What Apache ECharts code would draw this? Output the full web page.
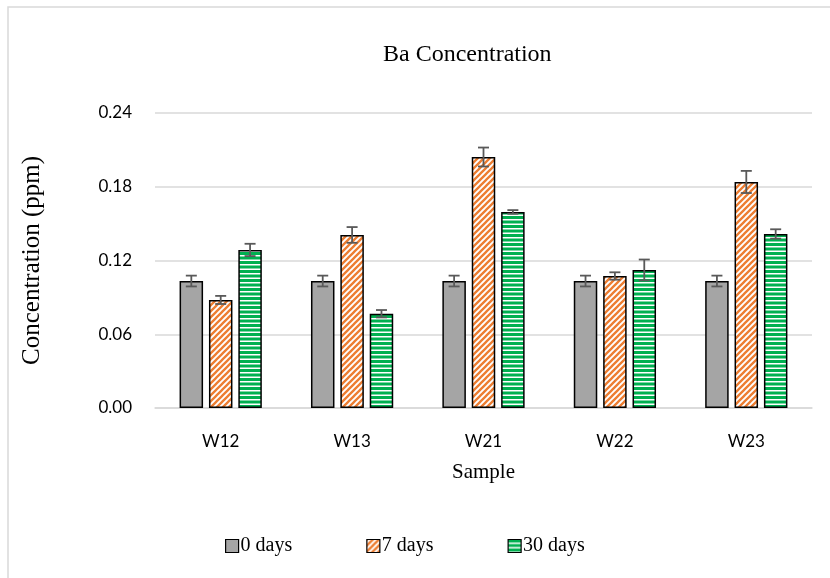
<!DOCTYPE html>
<html>
<head>
<meta charset="utf-8">
<script src="https://cdn.jsdelivr.net/npm/echarts@6/dist/echarts.min.js"></script>
<style>html,body{margin:0;padding:0;background:#fff}#c{width:830px;height:578px}</style>
</head>
<body>
<div id="c"></div>
<script>
const categories = ['W12', 'W13', 'W21', 'W22', 'W23'];
const seriesNames = ['0 days', '7 days', '30 days'];
const day0 = [0.1033, 0.1033, 0.1033, 0.1033, 0.1033];
const day7 = [0.0879, 0.1408, 0.2042, 0.1074, 0.1839];
const day30 = [0.1286, 0.0767, 0.1595, 0.1123, 0.1416];
const err0 = [0.0044, 0.0044, 0.0044, 0.0044, 0.0044];
const err7 = [0.0033, 0.0064, 0.0077, 0.0030, 0.0090];
const err30 = [0.0050, 0.0030, 0.0015, 0.0085, 0.0038];
const yTicks = [0, 0.06, 0.12, 0.18, 0.24];

function diagPattern() {
  const s = 6, c = document.createElement('canvas');
  c.width = s; c.height = s;
  const g = c.getContext('2d');
  g.fillStyle = '#fff'; g.fillRect(0, 0, s, s);
  g.strokeStyle = '#ED7D31'; g.lineWidth = 2.3;
  g.beginPath();
  g.moveTo(-2, s + 2); g.lineTo(s + 2, -2);
  g.moveTo(-2, 2); g.lineTo(2, -2);
  g.moveTo(s - 2, s + 2); g.lineTo(s + 2, s - 2);
  g.stroke();
  return c;
}
function hPattern() {
  const c = document.createElement('canvas');
  c.width = 4; c.height = 9;
  const g = c.getContext('2d');
  g.fillStyle = '#fff'; g.fillRect(0, 0, 4, 9);
  g.fillStyle = '#00B050';
  g.fillRect(0, 0, 4, 3); g.fillRect(0, 4.5, 4, 3);
  return c;
}
const fills = [
  '#A5A5A5',
  { image: diagPattern(), repeat: 'repeat' },
  { image: hPattern(), repeat: 'repeat' }
];
const values = [day0, day7, day30];
const errs = [err0, err7, err30];

const barW = 23.5, gap = 0.25;
const step = barW * (1 + gap);

const chart = echarts.init(document.getElementById('c'));
const series = [];
values.forEach((v, i) => {
  series.push({
    name: seriesNames[i], type: 'bar', data: v,
    barWidth: barW, barGap: (gap * 100) + '%',
    itemStyle: { color: fills[i], borderColor: '#000', borderWidth: 1.5 },
    z: 2
  });
});
values.forEach((v, i) => {
  series.push({
    type: 'custom', name: 'err' + i, z: 5,
    data: v.map((val, k) => [k, val - errs[i][k], val + errs[i][k]]),
    renderItem: function (params, api) {
      const lo = api.coord([api.value(0), api.value(1)]);
      const hi = api.coord([api.value(0), api.value(2)]);
      const x = lo[0] + (i - 1) * step;
      const hw = 5.5;
      const st = { stroke: '#595959', lineWidth: 1.8 };
      return { type: 'group', children: [
        { type: 'line', shape: { x1: x, y1: lo[1], x2: x, y2: hi[1] }, style: st },
        { type: 'line', shape: { x1: x - hw, y1: lo[1], x2: x + hw, y2: lo[1] }, style: st },
        { type: 'line', shape: { x1: x - hw, y1: hi[1], x2: x + hw, y2: hi[1] }, style: st }
      ]};
    },
    silent: true
  });
});

chart.setOption({
  animation: false,
  backgroundColor: '#fff',
  graphic: [{
    type: 'rect', shape: { x: 8, y: 7, width: 900, height: 700 },
    style: { fill: 'none', stroke: '#d9d9d9', lineWidth: 1.5 }, z: -1
  }],
  title: {
    text: 'Ba Concentration', left: 378, top: 38,
    textStyle: { fontFamily: 'Liberation Serif', fontSize: 24, fontWeight: 'normal', color: '#000' }
  },
  legend: {
    data: seriesNames, bottom: 17, left: 220, icon: 'rect',
    itemWidth: 13, itemHeight: 13, itemGap: 74,
    textStyle: { fontFamily: 'Liberation Serif', fontSize: 20, color: '#000', padding: [0, 0, 0, -3] },
    itemStyle: { borderColor: '#000', borderWidth: 1.2 }
  },
  grid: { left: 155, right: 18, top: 113, bottom: 170, containLabel: false },
  xAxis: {
    type: 'category', data: categories,
    name: 'Sample', nameLocation: 'middle', nameGap: 54,
    nameTextStyle: { fontFamily: 'Liberation Serif', fontSize: 21, color: '#000' },
    axisLine: { lineStyle: { color: '#d9d9d9', width: 1.5 } },
    axisTick: { show: false },
    axisLabel: { fontFamily: 'Lato', fontSize: 17, color: '#000', margin: 25 }
  },
  yAxis: {
    type: 'value', min: 0, max: 0.24, interval: 0.06,
    name: 'Concentration (ppm)', nameLocation: 'middle', nameGap: 110,
    nameTextStyle: { fontFamily: 'Liberation Serif', fontSize: 25, color: '#000' },
    axisLine: { show: false }, axisTick: { show: false },
    splitLine: { lineStyle: { color: '#d9d9d9', width: 1.5 } },
    axisLabel: {
      fontFamily: 'Lato', fontSize: 17, color: '#000', margin: 23,
      formatter: v => yTicks.includes(+v.toFixed(2)) ? v.toFixed(2) : ''
    }
  },
  series: series
});
</script>
</body>
</html>
